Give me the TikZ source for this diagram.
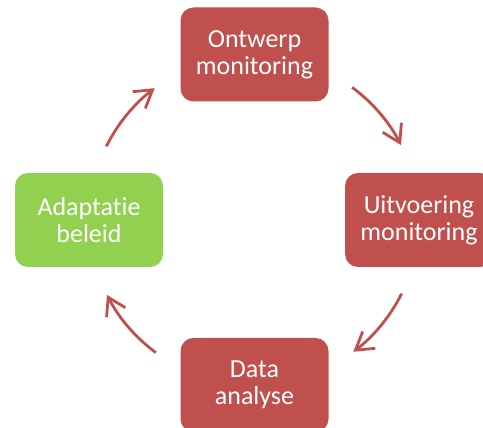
\documentclass[tikz,border=0pt]{standalone}
\usepackage{fontspec}
\setmainfont{Carlito}[RawFeature={-liga}]
\usetikzlibrary{arrows.meta}
\definecolor{boxred}{HTML}{C0504D}
\definecolor{boxgreen}{HTML}{92D050}
\tikzset{
  stage/.style={rounded corners=13pt, minimum width=148pt, minimum height=94pt,
    inner sep=0pt, align=center, text=white,
    font=\fontsize{26pt}{27pt}\selectfont},
  redstage/.style={stage, fill=boxred},
  greenstage/.style={stage, fill=boxgreen},
  cyc/.style={draw=boxred, line width=2.8pt,
    -{Straight Barb[length=17pt,width=21pt,line width=2.8pt]}}
}
\begin{document}
\begin{tikzpicture}[x=1pt,y=1pt]
  \useasboundingbox (0,0) rectangle (483,428);
  \clip (0,0) rectangle (483,428);
  % centre of the cycle
  \coordinate (c) at (254,208);
  % the four stages
  \node[redstage]   (ontwerp)   at (254.5,373.5) {Ontwerp\\monitoring};
  \node[redstage]   (uitvoer)   at (419,208)     {Uitvoering\\monitoring};
  \node[redstage]   (data)      at (254.5,43)    {Data\\analyse};
  \node[greenstage] (adaptatie) at (89,208)      {Adaptatie\\beleid};
  % curved arrows running clockwise round the centre
  \draw[cyc] ([shift={(153.5:165)}]c) arc[start angle=153.5, end angle=127, radius=165];
  \draw[cyc] ([shift={(53.5:165)}]c)  arc[start angle=53.5,  end angle=27,  radius=165];
  \draw[cyc] ([shift={(-26.5:165)}]c) arc[start angle=-26.5, end angle=-53, radius=165];
  \draw[cyc] ([shift={(-126.5:165)}]c) arc[start angle=-126.5, end angle=-153, radius=165];
\end{tikzpicture}
\end{document}
